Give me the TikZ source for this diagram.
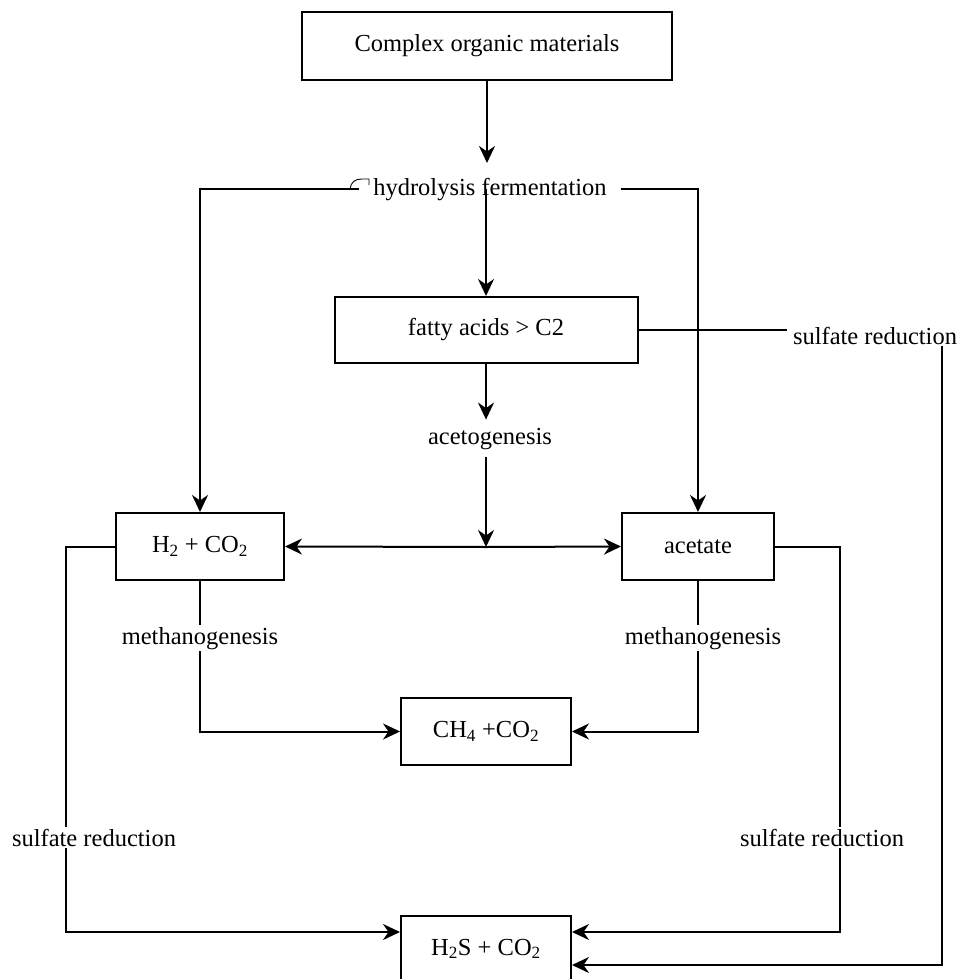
\documentclass[tikz,border=0pt]{standalone}
\usepackage{fontspec}
\setmainfont{Liberation Serif}
\usetikzlibrary{arrows.meta,calc}
\begin{document}
\begin{tikzpicture}[x=1pt,y=-1pt,
  every node/.style={font=\fontsize{24.5}{28}\selectfont},
  box/.style={draw, line width=2pt, rectangle, inner sep=0pt, align=center},
  lbl/.style={inner xsep=6pt, inner ysep=2pt},
  link/.style={line width=2pt},
  arr/.style={link, -{Stealth[length=17pt,width=16pt,inset=5.5pt]}},
]
\useasboundingbox (0,0) rectangle (961,979);

% boxes
\node[box, minimum width=370pt, minimum height=68pt] (top) at (487,46) {Complex organic materials};
\node[box, minimum width=303pt, minimum height=66pt] (fat) at (486,330) {fatty acids > C2};
\node[box, minimum width=168pt, minimum height=67pt] (h2) at (200,546.5) {H\textsubscript{2} + CO\textsubscript{2}};
\node[box, minimum width=152pt, minimum height=67pt] (ac) at (698,546.5) {acetate};
\node[box, minimum width=170pt, minimum height=67pt] (ch4) at (486,731.5) {CH\textsubscript{4} +CO\textsubscript{2}};
\node[box, minimum width=170pt, minimum height=66pt] (h2s) at (486,949) {H\textsubscript{2}S + CO\textsubscript{2}};

% process labels
\node[lbl, anchor=base, inner xsep=14pt] (hyd) at (490,195) {hydrolysis fermentation};
\node[lbl, anchor=base, inner ysep=8pt] (aceto) at (490,444) {acetogenesis};
\node[lbl, anchor=base] (sT) at (875,344) {sulfate reduction};
\node[lbl, anchor=base] (mL) at (200,644) {methanogenesis};
\node[lbl, anchor=base] (mR) at (703,644) {methanogenesis};
\node[lbl, anchor=base] (sL) at (94,846) {sulfate reduction};
\node[lbl, anchor=base] (sR) at (822,846) {sulfate reduction};

% helper points
\coordinate (t1) at (487,163);
\coordinate (jn) at (486,547);
\coordinate (xl) at (66,0);
\coordinate (xr) at (840,0);
\coordinate (xf) at (942,0);

% small pen mark before the hydrolysis label
\draw[line width=0.9pt] (350,189) .. controls (351,182) and (355,179) .. (362,179) -- (369,179) -- (369,185);

% connectors
\draw[arr] (top.south) -- (t1);
\draw[arr] (hyd.west) -| (h2.north);
\draw[arr] (hyd.east) -| (ac.north);
\draw[arr] (hyd.center -| fat.north) -- (fat.north);
\draw[arr] (fat.south) -- (fat.south |- aceto.north);
\draw[arr] (aceto.south -| jn) -- (jn);
\draw[arr] (jn) -- (h2.east);
\draw[arr] (jn) -- (ac.west);

\draw[link] (h2.south) -- (mL.north);
\draw[arr] (mL.south) |- (ch4.west);
\draw[link] (ac.south) -- (ac.south |- mR.north);
\draw[arr] (ac.south |- mR.south) |- (ch4.east);

\draw[link] (h2.west) -| (xl |- sL.north);
\draw[arr] (xl |- sL.south) |- ([yshift=17pt]h2s.west);
\draw[link] (ac.east) -| (xr |- sR.north);
\draw[arr] (xr |- sR.south) |- ([yshift=17pt]h2s.east);
\draw[link] (fat.east) -- (fat.east -| sT.west);
\draw[arr] (xf |- sT.south) |- ([yshift=-16pt]h2s.east);
\end{tikzpicture}
\end{document}
